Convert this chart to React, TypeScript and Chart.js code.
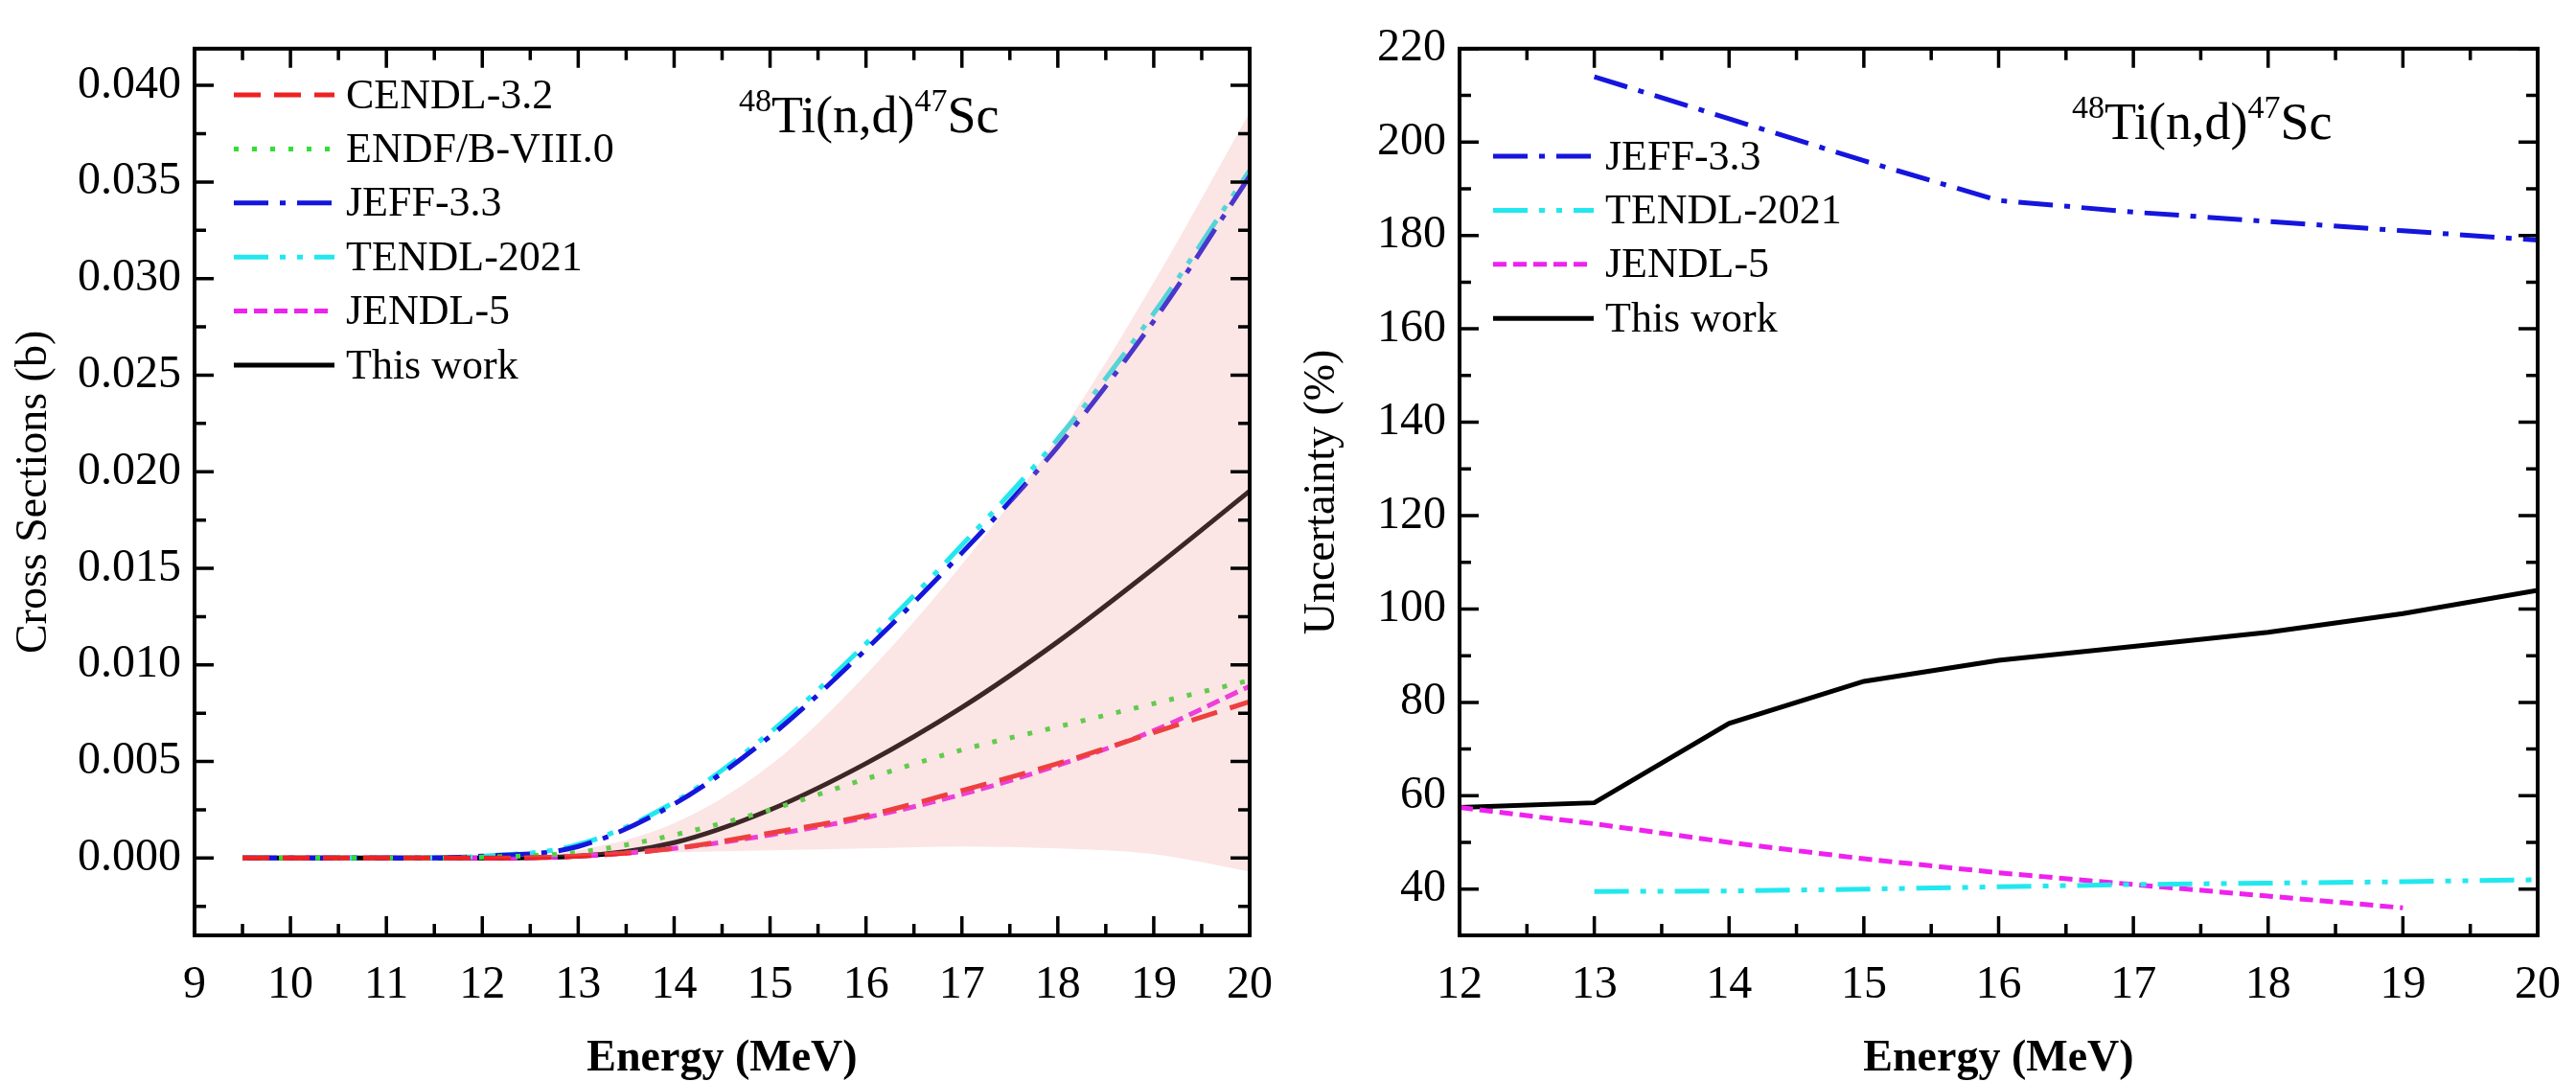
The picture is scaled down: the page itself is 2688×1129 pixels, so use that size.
import React, { useEffect, useRef } from "react";
import { Chart, registerables } from "chart.js";
Chart.register(...registerables);

const FONT = "'Liberation Serif', 'Times New Roman', serif";

// Left panel data
const leftE = [9.5, 10, 11, 12, 13, 14, 15, 16, 17, 18, 19, 20];
const cendl = [0, 0, 0, 0, 0.0001, 0.0005, 0.0013, 0.0022, 0.0035, 0.0049, 0.0065, 0.0081];
const endfb = [0, 0, 0, 0.00005, 0.0003, 0.0012, 0.0025, 0.0041, 0.0056, 0.0068, 0.008, 0.0092];
const jeffL = [0, 0, 0, 0.0001, 0.0006, 0.0028, 0.0063, 0.0108, 0.0158, 0.0213, 0.0278, 0.0353];
const tendlL = [0, 0, 0, 0.0001, 0.0007, 0.0029, 0.0065, 0.0111, 0.0162, 0.0217, 0.0282, 0.0356];
const jendlL = [0, 0, 0, 0, 0.0001, 0.0005, 0.0012, 0.0021, 0.0033, 0.0048, 0.0066, 0.0089];
const workL = [0, 0, 0, 0, 0.0001, 0.0008, 0.0025, 0.0049, 0.0078, 0.0112, 0.015, 0.019];
const bandE = [12, 13, 14, 15, 16, 17, 18, 19, 20];
const bandHi = [0, 0.0004, 0.0018, 0.0048, 0.0095, 0.0152, 0.0218, 0.0298, 0.0386];
const bandLo = [0, 0.0001, 0.0003, 0.0004, 0.0005, 0.0006, 0.0005, 0.0002, -0.0007];

// Right panel data
const jeffRE = [13, 14, 15, 16, 17, 18, 19, 20];
const jeffR = [214, 205, 196, 187.5, 185, 183, 181, 179];
const tendlRE = [13, 14, 15, 16, 17, 18, 19, 20];
const tendlR = [39.5, 39.6, 40, 40.5, 41, 41.3, 41.6, 42];
const jendlRE = [12, 13, 14, 15, 16, 17, 18, 19];
const jendlR = [57.5, 54, 50, 46.5, 43.5, 41, 38.5, 36];
const workRE = [12, 13, 14, 15, 16, 17, 18, 19, 20];
const workR = [57.5, 58.5, 75.5, 84.5, 89, 92, 95, 99, 104];

const pts = (xs: number[], ys: number[]) => xs.map((x, i) => ({ x, y: ys[i] }));

const line = (label: string, data: any, color: string, dash: number[]) => ({
  label, data, borderColor: color, borderDash: dash, borderWidth: 5,
  pointRadius: 0, fill: false, tension: 0.3, cubicInterpolationMode: "monotone",
});

const boxPlugin = (opts: any) => ({
  id: "box",
  afterDraw(chart: any) {
    const { ctx, chartArea: a, scales } = chart;
    ctx.save();
    ctx.strokeStyle = "#000";
    ctx.lineWidth = 4;
    ctx.strokeRect(a.left, a.top, a.right - a.left, a.bottom - a.top);
    const xs = scales.x, ys = scales.y;
    ctx.lineWidth = 3.5;
    const tk = (v: number, major: boolean, isX: boolean) => {
      const L = major ? 20 : 12;
      ctx.beginPath();
      if (isX) {
        const p = xs.getPixelForValue(v);
        ctx.moveTo(p, a.bottom); ctx.lineTo(p, a.bottom - L);
        ctx.moveTo(p, a.top); ctx.lineTo(p, a.top + L);
      } else {
        const p = ys.getPixelForValue(v);
        ctx.moveTo(a.left, p); ctx.lineTo(a.left + L, p);
        ctx.moveTo(a.right, p); ctx.lineTo(a.right - L, p);
      }
      ctx.stroke();
    };
    for (let v = opts.xmin; v <= opts.xmax + 1e-9; v += opts.xstep / 2) {
      const major = Math.abs(Math.round(v / opts.xstep) * opts.xstep - v) < 1e-9;
      tk(v, major, true);
    }
    for (let k = -4; k <= 40; k++) {
      const v = opts.ymajor0 + (k * opts.ystep) / 2;
      if (v < ys.min || v > ys.max + 1e-9) continue;
      tk(v, k % 2 === 0, false);
    }
    // title
    ctx.fillStyle = "#000";
    ctx.textBaseline = "alphabetic";
    let x = opts.titleX;
    const y = opts.titleY;
    const seg = (t: string, sup: boolean) => {
      ctx.font = `${sup ? 34 : 54}px ${FONT}`;
      ctx.fillText(t, x, sup ? y - 22 : y);
      x += ctx.measureText(t).width;
    };
    seg("48", true); seg("Ti(n,d)", false); seg("47", true); seg("Sc", false);
    // legend
    const ds = chart.data.datasets.filter((d: any) => d.label);
    ds.forEach((d: any, i: number) => {
      const ly = opts.legY + i * opts.legGap;
      ctx.strokeStyle = d.borderColor;
      ctx.lineWidth = 5;
      ctx.setLineDash(d.borderDash || []);
      ctx.beginPath();
      ctx.moveTo(opts.legX, ly); ctx.lineTo(opts.legX + 105, ly);
      ctx.stroke();
      ctx.setLineDash([]);
      ctx.fillStyle = "#000";
      ctx.font = `44px ${FONT}`;
      ctx.textBaseline = "middle";
      ctx.fillText(d.label, opts.legX + 117, ly + 2);
    });
    ctx.restore();
  },
});

function makeScales(o: any) {
  return {
    x: {
      type: "linear", min: o.xmin, max: o.xmax,
      grid: { display: false, drawTicks: false }, border: { display: false },
      ticks: { stepSize: o.xstep, color: "#000", font: { family: FONT, size: 48 }, padding: 24 },
      title: { display: true, text: "Energy (MeV)", color: "#000", font: { family: FONT, size: 46, weight: "bold" }, padding: { top: 0, bottom: 4 } },
      afterFit: (s: any) => { s.height = o.xh; },
    },
    y: {
      type: "linear", min: o.ymin, max: o.ymax,
      grid: { display: false, drawTicks: false }, border: { display: false },
      ticks: { color: "#000", font: { family: FONT, size: 48 }, padding: 14, callback: o.fmt },
      afterBuildTicks: (s: any) => {
        const t = [];
        for (let k = 0; k < 40; k++) {
          const v = o.ymajor0 + k * o.ystep;
          if (v > o.ymax + 1e-9) break;
          t.push({ value: +v.toFixed(6) });
        }
        s.ticks = t;
      },
      title: { display: true, text: o.ytitle, color: "#000", font: { family: FONT, size: 46 }, padding: { top: 0, bottom: 0 } },
      afterFit: (s: any) => { s.width = o.yw; },
    },
  };
}

function Panel(props: any) {
  const ref = useRef<HTMLCanvasElement>(null);
  useEffect(() => {
    const c = new Chart(ref.current!, {
      type: "line",
      data: { datasets: props.datasets },
      options: {
        animation: false, responsive: false, maintainAspectRatio: false,
        layout: { padding: props.padding },
        plugins: { legend: { display: false }, tooltip: { enabled: false } },
        scales: makeScales(props.o) as any,
      },
      plugins: [boxPlugin(props.o)],
    } as any);
    return () => c.destroy();
  }, []);
  return <canvas ref={ref} width={props.w} height={1129}
    style={{ position: "absolute", left: props.left, top: 0, width: props.w, height: 1129 }} />;
}

export default function App() {
  const leftDs = [
    { data: pts(bandE, bandHi), borderWidth: 0, pointRadius: 0, backgroundColor: "rgba(240,150,150,0.25)", fill: "+1", tension: 0.3, cubicInterpolationMode: "monotone" },
    { data: pts(bandE, bandLo), borderWidth: 0, pointRadius: 0, fill: false, tension: 0.3, cubicInterpolationMode: "monotone" },
    line("CENDL-3.2", pts(leftE, cendl), "#ee2222", [28, 14]),
    line("ENDF/B-VIII.0", pts(leftE, endfb), "#33dd33", [5, 14]),
    line("JEFF-3.3", pts(leftE, jeffL), "#1515dd", [36, 12, 6, 12]),
    line("TENDL-2021", pts(leftE, tendlL), "#22e8ee", [36, 12, 6, 12, 6, 12]),
    line("JENDL-5", pts(leftE, jendlL), "#ee22ee", [14, 7]),
    line("This work", pts(leftE, workL), "#000000", []),
  ];
  const rightDs = [
    line("JEFF-3.3", pts(jeffRE, jeffR), "#1515dd", [36, 12, 6, 12]),
    line("TENDL-2021", pts(tendlRE, tendlR), "#22e8ee", [36, 12, 6, 12, 6, 12]),
    line("JENDL-5", pts(jendlRE, jendlR), "#ee22ee", [14, 7]),
    line("This work", pts(workRE, workR), "#000000", []),
  ];
  rightDs.forEach((d: any) => { d.tension = 0; d.cubicInterpolationMode = "default"; });
  const lo = {
    xmin: 9, xmax: 20, xstep: 1, ymin: -0.004, ymax: 0.0419, ystep: 0.005, ymajor0: 0,
    fmt: (v: number) => v.toFixed(3), ytitle: "Cross Sections (b)", xh: 161, yw: 195,
    titleX: 763, titleY: 130, legX: 236, legY: 91, legGap: 56.4,
  };
  const ro = {
    xmin: 12, xmax: 20, xstep: 1, ymin: 30.1, ymax: 220, ystep: 20, ymajor0: 40,
    fmt: (v: number) => String(Math.round(v)), ytitle: "Uncertainty (%)", xh: 161, yw: 171,
    titleX: 2154 - 1344, titleY: 137, legX: 1550 - 1344, legY: 155, legGap: 56.4,
  };
  return (
    <div style={{ position: "relative", width: 2688, height: 1129 }}>
      <Panel left={0} w={1344} datasets={leftDs} o={lo} padding={{ top: 27, right: 3, left: 0, bottom: 0 }} />
      <Panel left={1344} w={1344} datasets={rightDs} o={ro} padding={{ top: 27, right: 27, left: 0, bottom: 0 }} />
    </div>
  );
}
